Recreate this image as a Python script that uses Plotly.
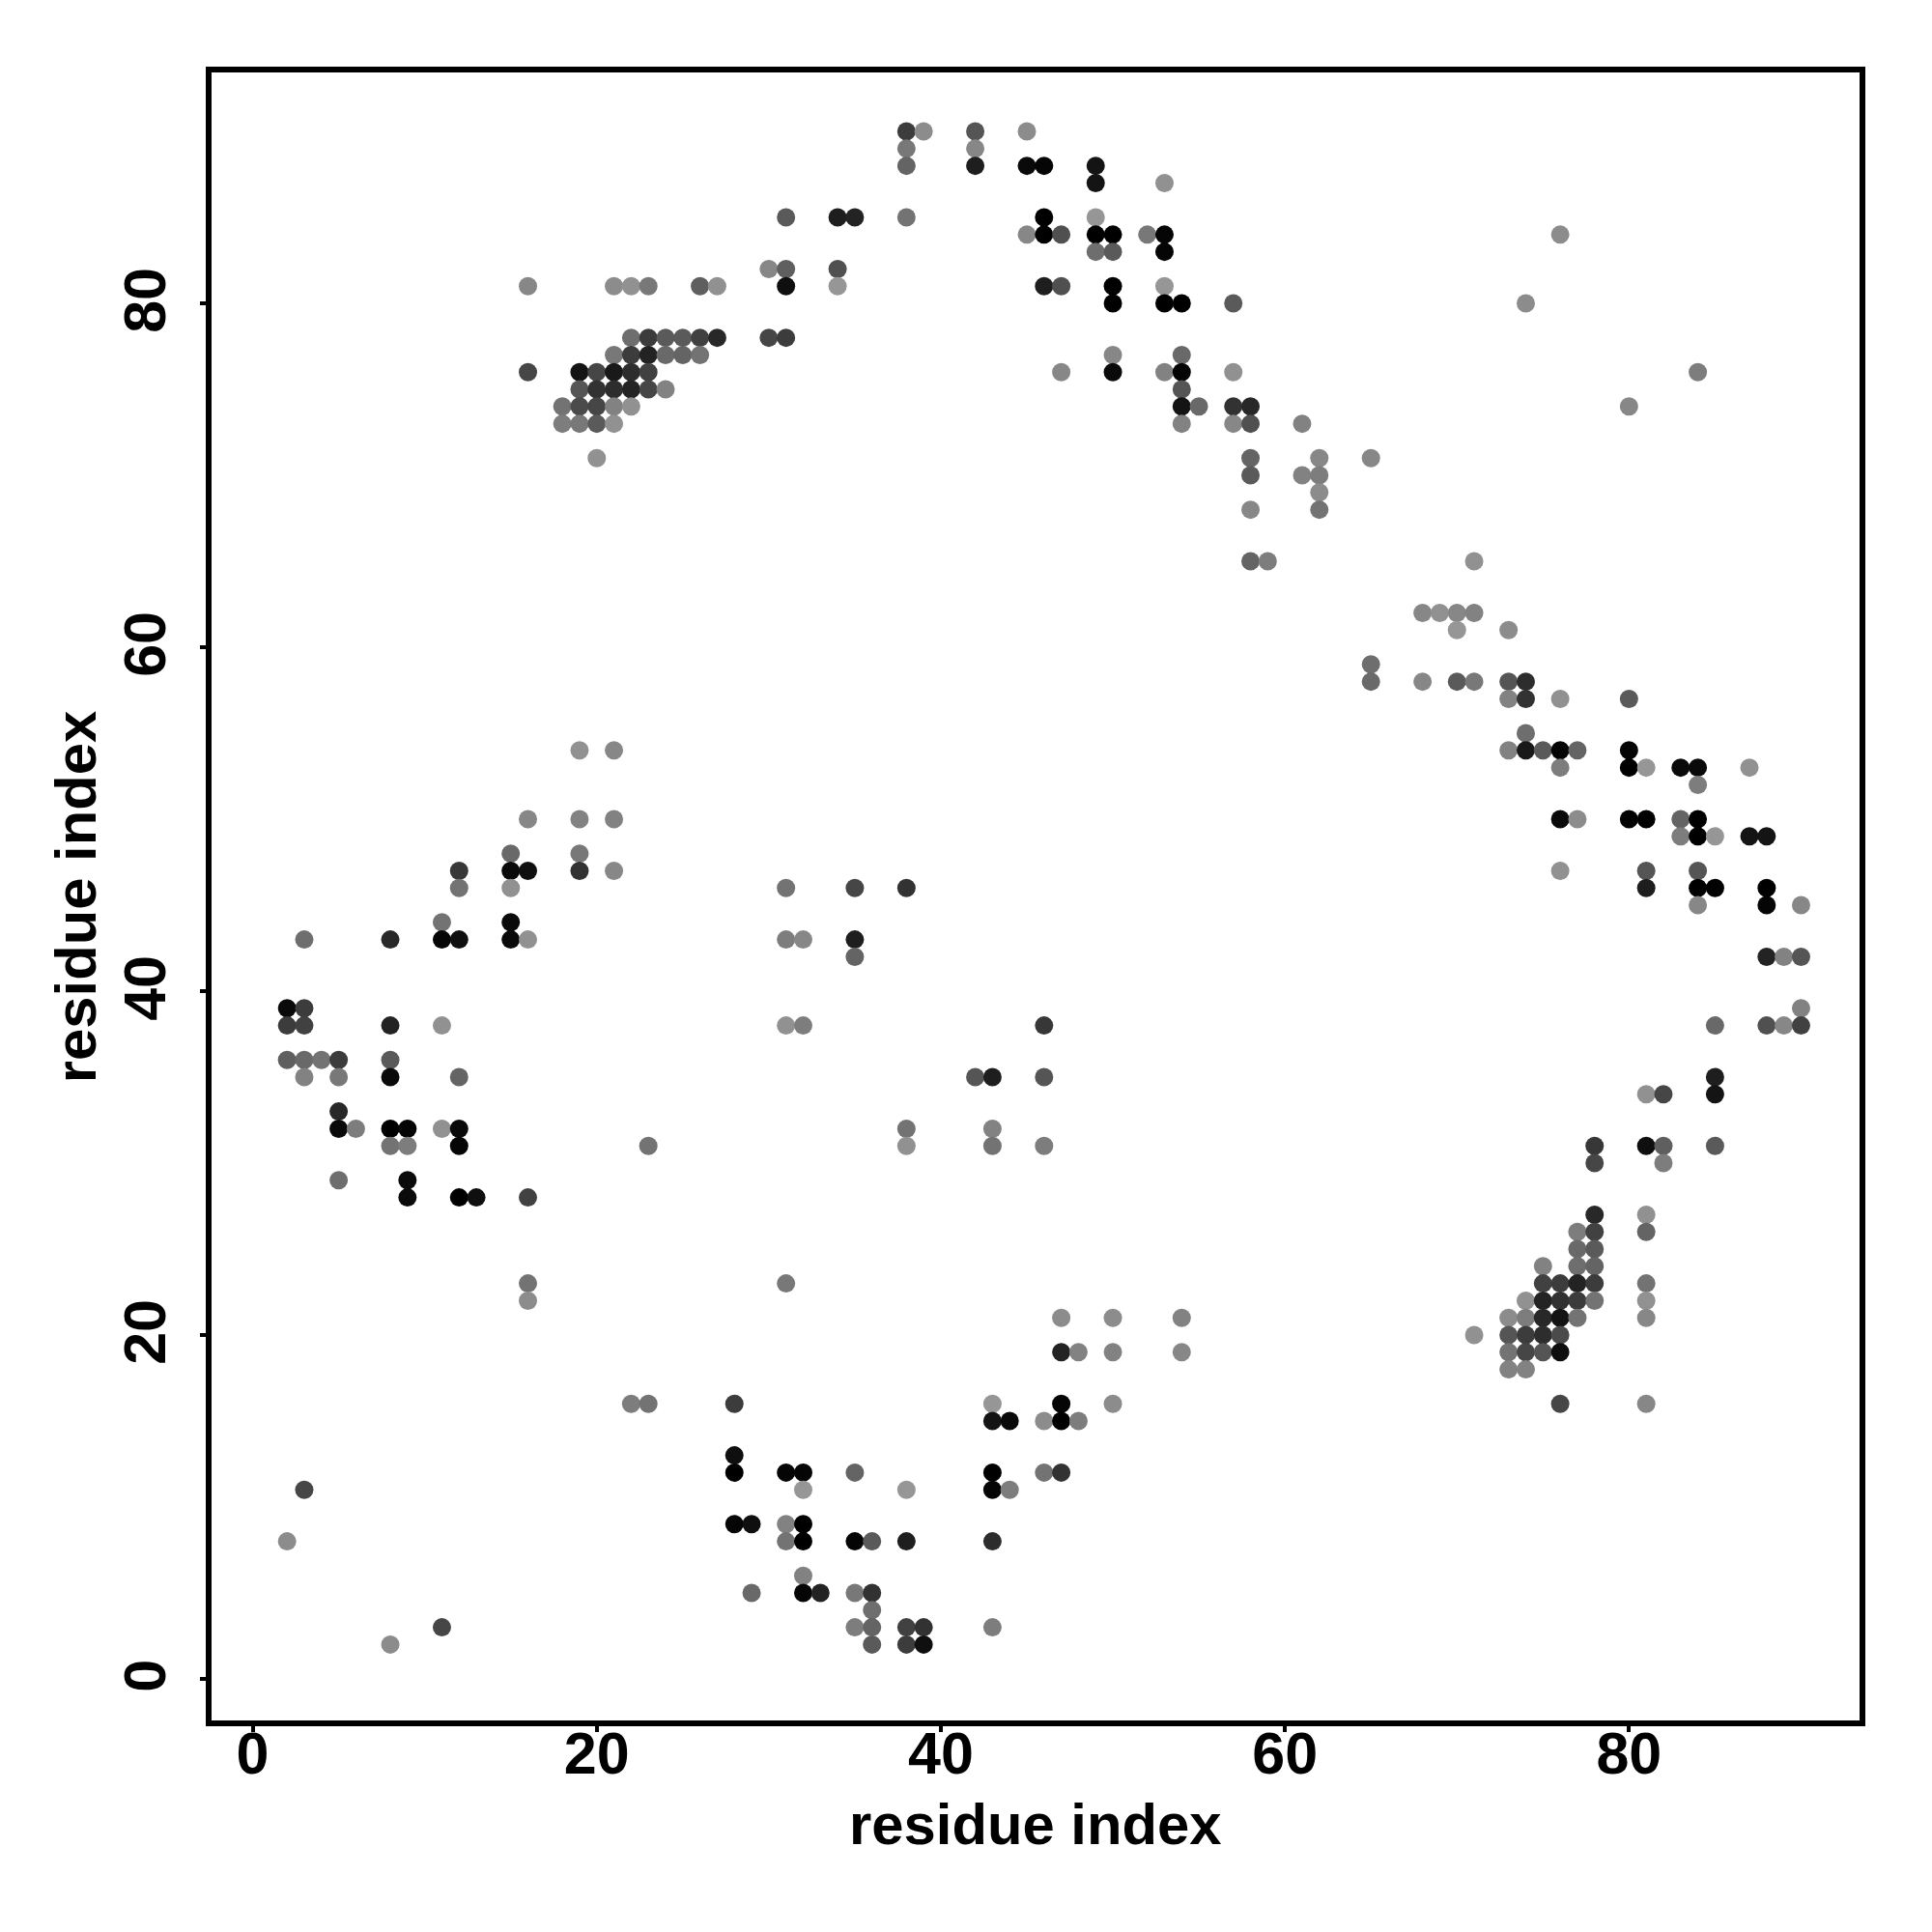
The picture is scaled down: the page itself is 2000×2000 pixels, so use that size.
import plotly.graph_objects as go

x_values = [
 38,39,42,45,
 38,42,
 38,42,45,46,49,
 49,53,
 31,34,35,38,46,49,
 45,46,47,49,50,52,53,76,
 49,50,53,
 30,31,34,
 16,21,22,23,26,27,31,34,46,47,50,53,
 50,53,54,57,74,
 22,23,24,25,26,27,30,31,
 21,22,23,24,25,26,50,54,
 16,19,20,21,22,23,47,50,53,54,57,84,
 19,20,21,22,23,24,54,
 18,19,20,21,22,54,55,57,58,80,
 18,19,20,21,54,57,58,61,
 20,58,62,65,
 58,61,62,
 62,
 58,62,
 58,59,71,
 68,69,70,71,
 70,73,
 65,
 65,68,70,71,73,74,
 73,74,76,80,
 74,
 73,74,75,76,77,80,19,21,
 76,80,81,83,84,87,
 84,
 76,77,80,81,83,84,16,19,21,
 83,84,85,87,88,
 15,19,
 12,15,16,19,21,76,81,84,
 12,15,31,35,38,81,84,85,88,
 84,88,90,
 11,15,
 3,8,11,12,15,16,31,32,35,
 35,88,89,90,
 2,3,90,
 2,3,8,11,31,32,46,85,88,89,90,
 2,3,4,5,8,
 3,5,8,12,42,43,46,85,
 81,82,85,
 5,
 5,6,8,9,11,12,38,43,
 8,9,12,23,38,43,46,78,81,82,85,
 78,82,
 5,9,
 9,12,13,16,
 78,81,
 77,78,81,
 77,78,
 75,77,78,
 16,31,75,76,77,78,81,
 16,74,75,76,77,78,81,
 47,50,54,73,74,75,76,77,81,
 71,73,74,75,76,
 47,48,50,54,73,74,75,76,
 73,74,
 22,23,28,43,47,50,76,81,
 43,44,46,47,48,
 28,
 28,31,32,35,43,46,47,
 3,32,38,43,44,
 28,29,31,32,
 2,31,32,35,36,38,43,
 32,
 29,32,33,35,36,
 36,
 11,35,36,38,39,43,
 8,36,38,39,
]

y_values = [
 90,90,90,90,
 89,89,
 88,88,88,88,88,
 87,87,
 85,85,85,85,85,85,
 84,84,84,84,84,84,84,84,
 83,83,83,
 82,82,82,
 81,81,81,81,81,81,81,81,81,81,81,81,
 80,80,80,80,80,
 78,78,78,78,78,78,78,78,
 77,77,77,77,77,77,77,77,
 76,76,76,76,76,76,76,76,76,76,76,76,
 75,75,75,75,75,75,75,
 74,74,74,74,74,74,74,74,74,74,
 73,73,73,73,73,73,73,73,
 71,71,71,71,
 70,70,70,
 69,
 68,68,
 65,65,65,
 62,62,62,62,
 61,61,
 59,
 58,58,58,58,58,58,
 57,57,57,57,
 55,
 54,54,54,54,54,54,54,54,
 53,53,53,53,53,53,
 52,
 50,50,50,50,50,50,50,50,50,
 49,49,49,49,49,
 48,48,
 47,47,47,47,47,47,47,47,
 46,46,46,46,46,46,46,46,46,
 45,45,45,
 44,44,
 43,43,43,43,43,43,43,43,43,
 42,42,42,42,
 39,39,39,
 38,38,38,38,38,38,38,38,38,38,38,
 36,36,36,36,36,
 35,35,35,35,35,35,35,35,
 34,34,34,
 33,
 32,32,32,32,32,32,32,32,
 31,31,31,31,31,31,31,31,31,31,31,
 30,30,
 29,29,
 28,28,28,28,
 27,27,
 26,26,26,
 25,25,
 24,24,24,
 23,23,23,23,23,23,23,
 22,22,22,22,22,22,22,
 21,21,21,21,21,21,21,21,21,
 20,20,20,20,20,
 19,19,19,19,19,19,19,19,
 18,18,
 16,16,16,16,16,16,16,16,
 15,15,15,15,15,
 13,
 12,12,12,12,12,12,12,
 11,11,11,11,11,
 9,9,9,9,
 8,8,8,8,8,8,8,
 6,
 5,5,5,5,5,
 4,
 3,3,3,3,3,3,
 2,2,2,2,
]

gray_values = [
 60,140,85,140,
 120,135,
 100,30,10,5,20,
 20,145,
 90,30,35,115,0,150,
 135,0,80,0,0,120,5,140,
 110,90,5,
 135,95,80,
 135,140,145,120,95,145,15,150,30,80,0,150,
 0,0,0,90,140,
 110,60,90,90,65,40,70,60,
 120,60,35,105,100,115,135,105,
 70,20,70,25,45,65,135,10,130,5,145,125,
 85,50,45,35,70,130,85,
 115,75,70,130,145,20,105,50,40,135,
 125,120,90,145,130,135,80,130,
 145,100,135,135,
 90,130,125,
 140,
 135,115,
 100,125,145,
 135,145,135,130,
 150,140,
 110,
 105,135,90,120,85,45,
 130,50,145,90,
 110,
 130,25,90,5,100,5,145,135,
 125,0,150,10,10,145,
 125,
 10,140,0,0,100,0,135,130,130,
 125,0,150,20,20,
 105,120,
 55,10,15,50,135,145,85,85,
 115,145,115,70,50,30,0,0,0,
 135,5,135,
 115,10,
 110,40,5,15,10,145,125,135,30,
 100,35,130,85,
 10,60,130,
 60,65,35,145,145,125,55,105,80,135,65,
 95,105,115,60,90,
 130,120,10,100,85,30,85,30,
 145,70,20,
 40,
 10,125,0,5,145,10,115,130,
 115,125,5,115,145,115,125,55,15,95,90,
 70,125,
 110,10,
 10,0,15,65,
 40,145,
 125,65,100,
 105,90,
 130,110,100,
 115,120,65,60,35,60,115,
 140,145,35,50,60,115,145,
 140,140,130,140,125,40,20,115,135,
 145,85,60,45,75,
 35,130,130,135,115,70,85,15,
 130,130,
 125,115,60,150,5,140,70,135,
 20,10,140,0,125,
 15,
 0,5,5,100,0,115,50,
 70,150,150,5,125,
 5,15,130,0,
 140,115,0,5,90,30,45,
 130,
 105,5,35,120,50,
 110,
 70,125,100,65,50,125,
 140,90,60,15,
]

tick_values = [0, 20, 40, 60, 80]
tick_labels = ["0", "20", "40", "60", "80"]
axis_title = "residue index"
FONT = "Liberation Sans"
title_font = dict(family=FONT, size=59.8, color="black", weight="bold")

fig = go.Figure(go.Scatter(
    x=x_values, y=y_values, mode="markers",
    marker=dict(size=19, color=[f"rgb({g},{g},{g})" for g in gray_values], line=dict(width=0)),
    showlegend=False,
))
common = dict(
    tickmode="array", tickvals=tick_values, ticktext=tick_labels,
    showgrid=False, zeroline=False, showline=True, mirror=True,
    linecolor="black", linewidth=6,
    ticks="outside", ticklen=6, tickwidth=4, tickcolor="black",
    tickfont=dict(family=FONT, size=61, color="black", weight="bold"),
)
fig.update_xaxes(range=[-2.39, 93.40], ticklabelstandoff=-30, **common)
fig.update_yaxes(range=[-2.416, 93.43], tickangle=-90, ticklabelstandoff=12, ticklabelshift=6, **common)
fig.update_layout(
    width=2000, height=2000, autosize=False,
    margin=dict(l=211, r=83, t=67, b=227, autoexpand=False),
    paper_bgcolor="white", plot_bgcolor="white",
    annotations=[
        dict(text=axis_title, xref="paper", yref="paper", x=0.4998, y=-0.0633,
             xanchor="center", yanchor="middle", showarrow=False, font=title_font),
        dict(text=axis_title, xref="paper", yref="paper", x=-0.0827, y=0.4998,
             xanchor="center", yanchor="middle", textangle=-90, showarrow=False, font=title_font),
    ],
)
assert len(x_values) == len(y_values) == len(gray_values)
fig.write_html("out.html")
